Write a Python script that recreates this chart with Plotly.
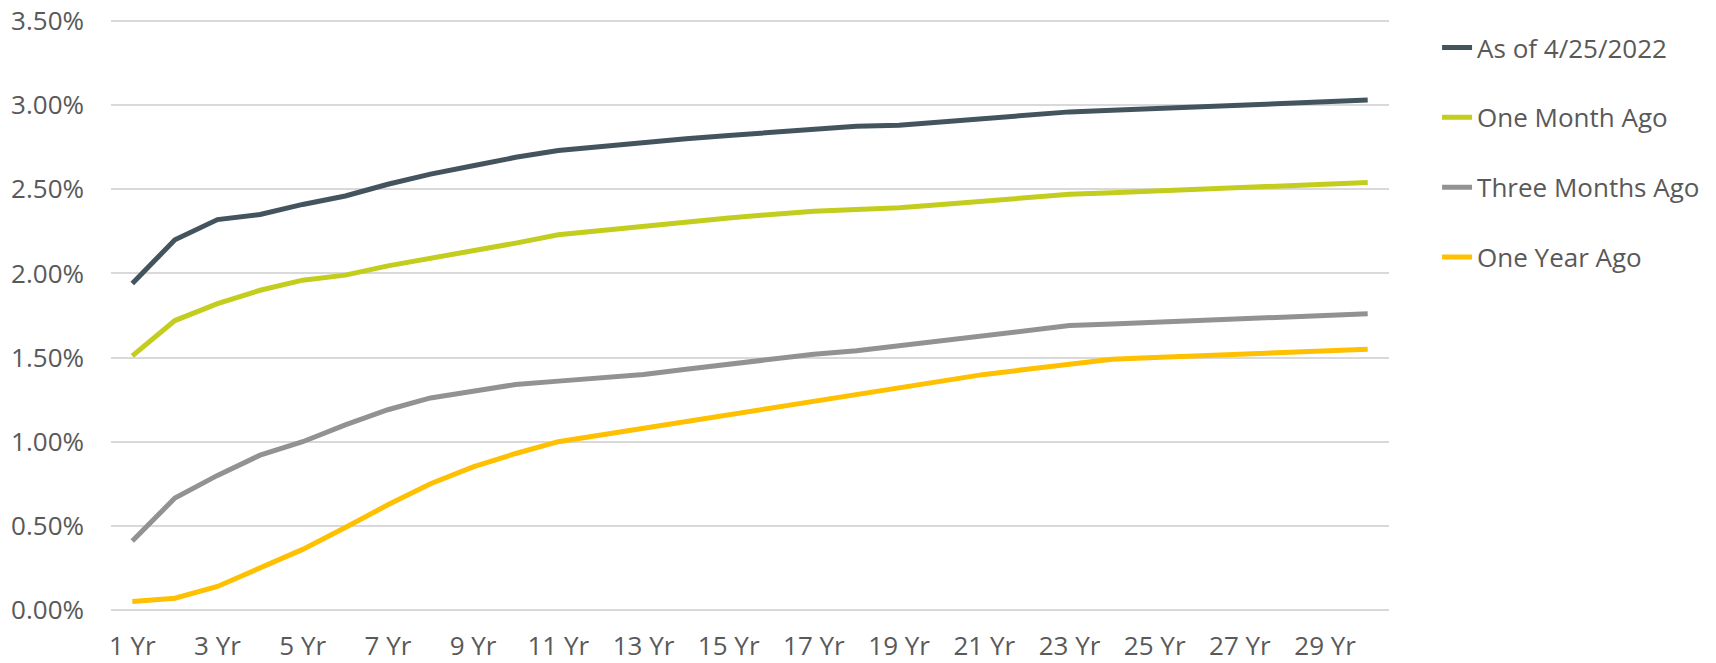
import plotly.graph_objects as go

categories = [f"{i} Yr" for i in range(1, 31)]
tick_labels = [f"{i} Yr" for i in range(1, 31, 2)]
y_tick_values = [0.0, 0.5, 1.0, 1.5, 2.0, 2.5, 3.0, 3.5]
y_tick_labels = ["0.00%", "0.50%", "1.00%", "1.50%", "2.00%", "2.50%", "3.00%", "3.50%"]

as_of_2022_04_25 = [1.94, 2.20, 2.32, 2.35, 2.41, 2.46, 2.53, 2.59, 2.64, 2.69,
                    2.73, 2.755, 2.78, 2.80, 2.82, 2.84, 2.86, 2.875, 2.88, 2.90,
                    2.92, 2.94, 2.96, 2.97, 2.98, 2.99, 3.00, 3.01, 3.02, 3.03]
one_month_ago = [1.51, 1.72, 1.82, 1.90, 1.96, 1.99, 2.045, 2.09, 2.13, 2.18,
                 2.23, 2.255, 2.285, 2.31, 2.33, 2.35, 2.37, 2.38, 2.39, 2.41,
                 2.43, 2.45, 2.47, 2.48, 2.49, 2.50, 2.51, 2.52, 2.53, 2.54]
three_months_ago = [0.41, 0.665, 0.80, 0.92, 1.00, 1.10, 1.19, 1.26, 1.30, 1.34,
                    1.36, 1.38, 1.40, 1.43, 1.46, 1.49, 1.52, 1.54, 1.57, 1.60,
                    1.63, 1.66, 1.69, 1.70, 1.71, 1.72, 1.73, 1.74, 1.75, 1.76]
one_year_ago = [0.05, 0.07, 0.14, 0.25, 0.36, 0.49, 0.625, 0.75, 0.85, 0.93,
                1.00, 1.04, 1.08, 1.12, 1.16, 1.20, 1.24, 1.28, 1.32, 1.36,
                1.40, 1.43, 1.46, 1.49, 1.50, 1.51, 1.52, 1.53, 1.54, 1.55]

series = [
    ("As of 4/25/2022", as_of_2022_04_25, "#44545F"),
    ("One Month Ago", one_month_ago, "#C3CD1E"),
    ("Three Months Ago", three_months_ago, "#929292"),
    ("One Year Ago", one_year_ago, "#FFC000"),
]

fig = go.Figure()
for name, vals, color in series:
    fig.add_trace(go.Scatter(
        x=categories, y=vals, name=name, mode="lines",
        line=dict(color=color, width=5),
        legendgroup=name,
    ))

font_family = "Open Sans"
text_color = "#595959"

fig.update_layout(
    width=1716, height=663,
    margin=dict(l=111, r=326, t=20, b=52),
    paper_bgcolor="white", plot_bgcolor="white",
    font=dict(family=font_family, size=26, color=text_color),
    showlegend=True,
    legend=dict(
        x=1.0368, xanchor="left", y=0.993, yanchor="top",
        font=dict(family=font_family, size=26, color=text_color),
        tracegroupgap=33, itemwidth=30, bgcolor="rgba(0,0,0,0)",
    ),
    xaxis=dict(
        type="category", range=[-0.5, len(categories) - 0.5],
        tickmode="array", tickvals=tick_labels, ticktext=tick_labels,
        showgrid=False, showline=False, zeroline=False, ticks="",
        ticklabelstandoff=17, automargin=False,
        tickfont=dict(family=font_family, size=26, color=text_color),
    ),
    yaxis=dict(
        range=[-0.006, 3.506], tickmode="array",
        tickvals=y_tick_values, ticktext=y_tick_labels,
        showgrid=True, gridcolor="#D9D9D9", gridwidth=1.5,
        zeroline=False, showline=False, ticks="",
        ticklabelstandoff=26, automargin=False, ticklabeloverflow="allow",
        tickfont=dict(family=font_family, size=26, color=text_color),
    ),
)

fig.write_html(
    "out.html",
    config={"displayModeBar": False},
    post_script="document.body.style.margin='0';document.body.style.overflow='hidden';",
)
